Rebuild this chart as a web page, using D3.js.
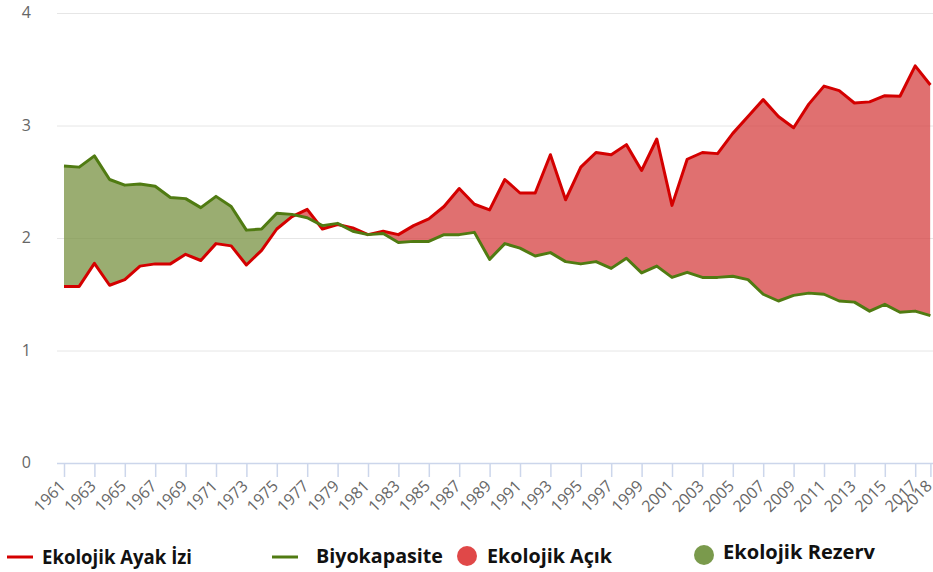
<!DOCTYPE html>
<html><head><meta charset="utf-8">
<script src="https://cdn.jsdelivr.net/npm/d3@7"></script>
<style>body{margin:0;background:#fff;}svg{display:block;}</style>
</head><body>
<svg id="c" width="933" height="572"></svg>
<script>
const years = d3.range(1961, 2019);
const footprint = [1.57,1.57,1.775,1.58,1.63,1.75,1.77,1.77,1.855,1.80,1.95,1.93,1.76,1.89,2.08,2.19,2.255,
  2.08,2.12,2.09,2.03,2.06,2.03,2.11,2.17,2.28,2.44,2.30,2.25,2.52,2.40,2.40,2.74,2.34,2.63,2.76,2.74,
  2.83,2.60,2.88,2.29,2.70,2.76,2.75,2.93,3.08,3.23,3.08,2.98,3.19,3.35,3.31,3.20,3.21,3.265,3.26,3.53,3.36];
const biocapacity = [2.64,2.63,2.73,2.52,2.47,2.48,2.46,2.36,2.35,2.27,2.37,2.28,2.07,2.08,2.22,2.21,2.18,
  2.11,2.13,2.06,2.03,2.04,1.96,1.97,1.97,2.03,2.03,2.05,1.81,1.95,1.91,1.84,1.87,1.79,1.77,1.79,1.73,
  1.82,1.69,1.75,1.65,1.695,1.65,1.65,1.66,1.63,1.50,1.44,1.49,1.51,1.50,1.44,1.43,1.35,1.41,1.34,1.35,1.31];
const yTicks = [0,1,2,3,4];
const xTickYears = d3.range(1961, 2018, 2).concat([2018]);
const legendItems = [
  {label:"Ekolojik Ayak İzi", kind:"line", color:"#d40000"},
  {label:"Biyokapasite", kind:"line", color:"#507b12"},
  {label:"Ekolojik Açık", kind:"dot", color:"#e04848"},
  {label:"Ekolojik Rezerv", kind:"dot", color:"#7a9a4c"}
];

const data = years.map((y,i)=>({year:y, f:footprint[i], b:biocapacity[i]}));
const svg = d3.select("#c");
const x = d3.scaleLinear().domain([1961,2018]).range([64,930.4]);
const y = d3.scaleLinear().domain([0,4]).range([463,13]);

// grid
svg.append("g").selectAll("line").data(yTicks.filter(d=>d>0)).join("line")
  .attr("x1",57).attr("x2",933).attr("y1",d=>y(d)+0.5).attr("y2",d=>y(d)+0.5)
  .attr("stroke","#e6e6e6").attr("stroke-width",1);
// y labels
svg.append("g").selectAll("text").data(yTicks).join("text")
  .attr("x",31).attr("y",d=>y(d)+5).attr("text-anchor","end")
  .attr("font-family","'Open Sans', sans-serif").attr("font-size",16).attr("fill","#666")
  .text(d=>d);

// fills
const defs = svg.append("defs");
const aboveB = d3.area().x(d=>x(d.year)).y0(0).y1(d=>y(d.b));
const belowB = d3.area().x(d=>x(d.year)).y0(572).y1(d=>y(d.b));
defs.append("clipPath").attr("id","clipAbove").append("path").attr("d",aboveB(data));
defs.append("clipPath").attr("id","clipBelow").append("path").attr("d",belowB(data));
const between = d3.area().x(d=>x(d.year)).y0(d=>y(d.b)).y1(d=>y(d.f));
svg.append("path").attr("d",between(data)).attr("fill","rgb(214,64,64)").attr("fill-opacity",0.75)
  .attr("clip-path","url(#clipAbove)");
svg.append("path").attr("d",between(data)).attr("fill","rgb(120,146,66)").attr("fill-opacity",0.75)
  .attr("clip-path","url(#clipBelow)");

// x axis
const xAxis = d3.axisBottom(x).tickValues(xTickYears).tickSize(14).tickFormat(d3.format("d"));
const gx = svg.append("g").attr("transform","translate(0,463)").call(xAxis);
gx.select(".domain").remove();
gx.append("line").attr("x1",57).attr("x2",933).attr("y1",0.5).attr("y2",0.5).attr("stroke","#ccd6eb").attr("stroke-width",1.5);
gx.selectAll(".tick line").attr("stroke","#ccd6eb").attr("stroke-width",1.5);
gx.selectAll(".tick text")
  .attr("font-family","'Open Sans', sans-serif").attr("font-size",16).attr("fill","#666")
  .attr("text-anchor","end").attr("dy",null).attr("y",0)
  .attr("transform","translate(2,24) rotate(-45)");

// lines
const lineF = d3.line().x(d=>x(d.year)).y(d=>y(d.f));
const lineB = d3.line().x(d=>x(d.year)).y(d=>y(d.b));
svg.append("path").attr("d",lineF(data)).attr("fill","none").attr("stroke","#d40000").attr("stroke-width",3).attr("stroke-linejoin","round");
svg.append("path").attr("d",lineB(data)).attr("fill","none").attr("stroke","#507b12").attr("stroke-width",3).attr("stroke-linejoin","round");

// legend
const legSym = [[7,557],[272,557],[467,556],[704,555]];
const legText = [[42,564,150],[316,563,127],[487,563,125],[723,559,152]];
const lg = svg.append("g");
legendItems.forEach((it,i)=>{
  const [sx,sy] = legSym[i];
  if(it.kind==="line"){
    lg.append("line").attr("x1",sx).attr("x2",sx+26).attr("y1",sy).attr("y2",sy).attr("stroke",it.color).attr("stroke-width",3);
  } else {
    lg.append("circle").attr("cx",sx).attr("cy",sy).attr("r",10).attr("fill",it.color);
  }
  const [tx,ty,tw] = legText[i];
  lg.append("text").attr("x",tx).attr("y",ty).attr("font-family","'Open Sans', sans-serif")
    .attr("font-weight",700).attr("font-size",19).attr("fill","#111")
    .attr("textLength",tw).attr("lengthAdjust","spacingAndGlyphs").text(it.label);
});
</script>
</body></html>
